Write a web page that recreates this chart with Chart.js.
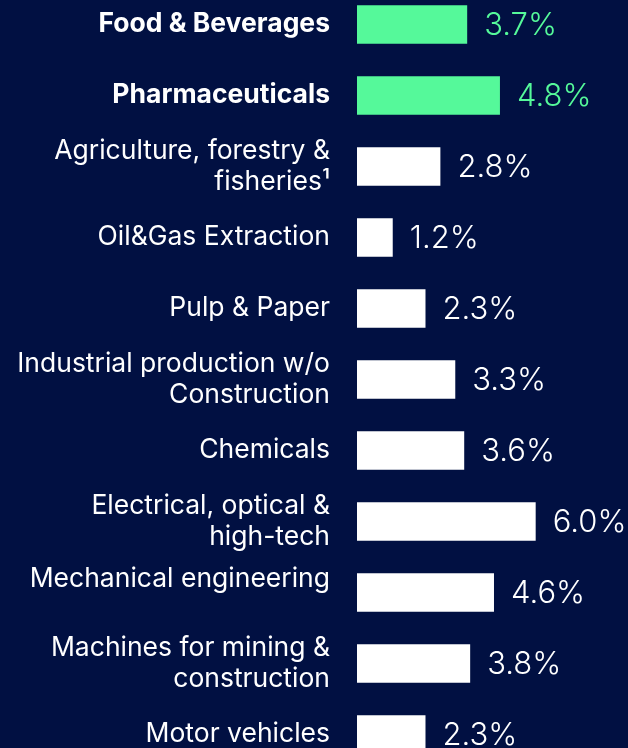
<!DOCTYPE html>
<html>
<head>
<meta charset="utf-8">
<script src="https://cdn.jsdelivr.net/npm/chart.js@4"></script>
<style>
  html, body { margin: 0; padding: 0; background: #011042; overflow: hidden; }
  #wrap { position: absolute; left: 0; top: -11px; width: 628px; height: 781px; }
</style>
</head>
<body>
<div id="wrap"><canvas id="myChart"></canvas></div>
<script>
// sectors, top to bottom (the empty second line lifts "Mechanical engineering" as in the original)
let categories = [
    'Food & Beverages',
    'Pharmaceuticals',
    ['Agriculture, forestry &', 'fisheries\u00B9'],
    'Oil&Gas Extraction',
    'Pulp & Paper',
    ['Industrial production w/o', 'Construction'],
    'Chemicals',
    ['Electrical, optical &', 'high-tech'],
    ['Mechanical engineering', ''],
    ['Machines for mining &', 'construction'],
    'Motor vehicles'
];
let values = [3.7, 4.8, 2.8, 1.2, 2.3, 3.3, 3.6, 6.0, 4.6, 3.8, 2.3];
let highlighted = [true, true, false, false, false, false, false, false, false, false, false];

let green = '#55F99A';
let white = '#FFFFFF';

let valueLabels = {
    id: 'valueLabels',
    afterDatasetsDraw(chart) {
        let ctx = chart.ctx;
        let meta = chart.getDatasetMeta(0);
        ctx.save();
        ctx.font = '300 31px Inter';
        ctx.textBaseline = 'middle';
        ctx.textAlign = 'left';
        meta.data.forEach(function (bar, i) {
            ctx.fillStyle = highlighted[i] ? green : white;
            ctx.fillText(values[i].toFixed(1) + '%', bar.x + 17, bar.y + 1);
        });
        ctx.restore();
    }
};

let ctx = document.getElementById('myChart').getContext('2d');
let chart = new Chart(ctx, {
    type: 'bar',
    data: {
        labels: categories,
        datasets: [{
            data: values,
            backgroundColor: highlighted.map(h => h ? green : white),
            borderWidth: 0,
            barPercentage: 0.54,
            categoryPercentage: 1
        }]
    },
    options: {
        indexAxis: 'y',
        responsive: true,
        maintainAspectRatio: false,
        animation: false,
        layout: { padding: 0 },
        plugins: {
            legend: { display: false },
            tooltip: { enabled: false }
        },
        scales: {
            x: {
                display: false,
                min: 0,
                max: 9.1
            },
            y: {
                grid: { display: false, drawTicks: false },
                border: { display: false },
                ticks: {
                    color: white,
                    padding: 27,
                    font: function (c) {
                        let lbl = categories[c.index];
                        let lifted = Array.isArray(lbl) && lbl[1] === '';
                        return {
                            family: 'Inter',
                            size: 26.5,
                            lineHeight: lifted ? 1.0 : 1.2,
                            weight: highlighted[c.index] ? 'bold' : 'normal'
                        };
                    }
                },
                afterFit: function (scale) {
                    scale.width = 357;
                    scale.paddingTop = 0;
                    scale.paddingBottom = 0;
                }
            }
        }
    },
    plugins: [valueLabels]
});
</script>
</body>
</html>
